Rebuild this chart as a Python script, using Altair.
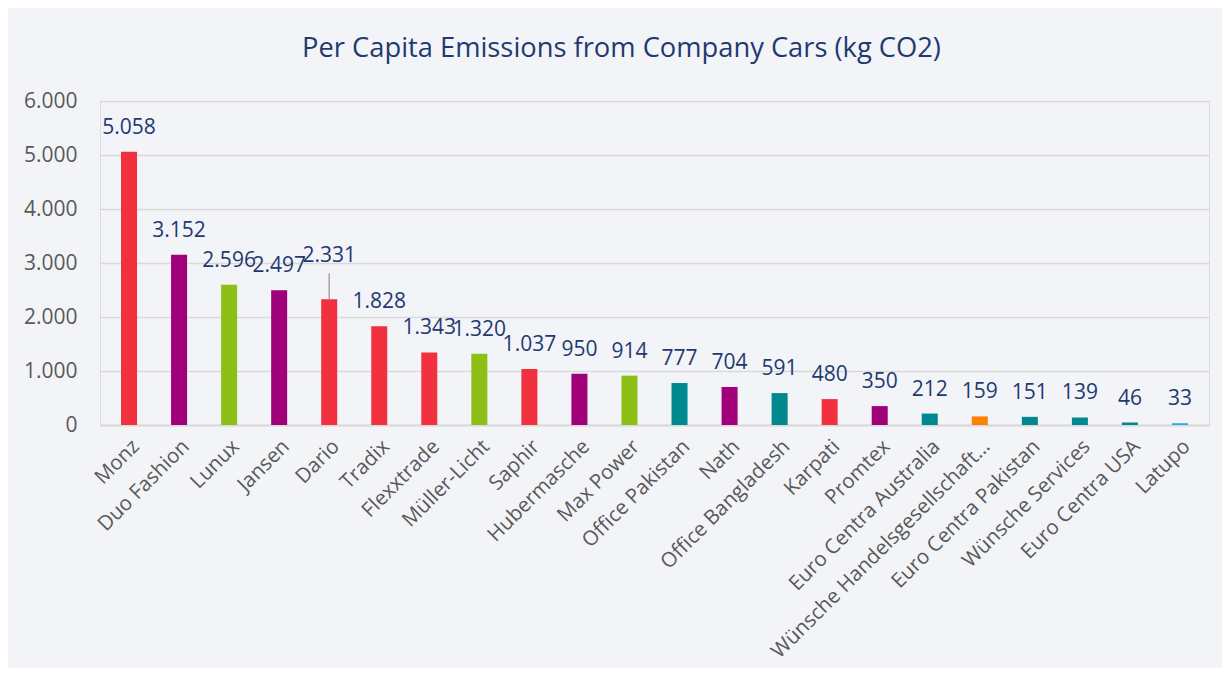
import altair as alt
import pandas as pd

companies = ["Monz", "Duo Fashion", "Lunux", "Jansen", "Dario", "Tradix", "Flexxtrade",
             "Müller-Licht", "Saphir", "Hubermasche", "Max Power", "Office Pakistan", "Nath",
             "Office Bangladesh", "Karpati", "Promtex", "Euro Centra Australia",
             "Wünsche Handelsgesellschaft…", "Euro Centra Pakistan", "Wünsche Services",
             "Euro Centra USA", "Latupo"]
emissions = [5058, 3152, 2596, 2497, 2331, 1828, 1343, 1320, 1037, 950, 914, 777, 704,
             591, 480, 350, 212, 159, 151, 139, 46, 33]
groups = ["A", "B", "C", "B", "A", "A", "A", "C", "A", "B", "C", "D", "B", "D", "A", "B",
          "D", "E", "D", "D", "D", "F"]
group_names = ["A", "B", "C", "D", "E", "F"]
group_colors = ["#F2313F", "#A0007A", "#8DC014", "#00888F", "#FF8000", "#25AEDB"]
y_ticks = [0, 1000, 2000, 3000, 4000, 5000, 6000]

df = pd.DataFrame({"company": companies, "value": emissions, "group": groups})

FONT = "Open Sans"
NAVY = "#1F3A70"
GRAY = "#595959"

x_enc = alt.X("company:N", sort=companies, title=None,
              scale=alt.Scale(paddingInner=0.68, paddingOuter=0.42),
              axis=alt.Axis(labelAngle=-45, labelFontSize=20.5, labelColor=GRAY, labelFont=FONT,
                            ticks=False, domain=True, domainColor="#D9D9D9", domainWidth=2,
                            labelLimit=400, labelPadding=11))
y_enc = alt.Y("value:Q", title=None,
              scale=alt.Scale(domain=[0, 6000], nice=False),
              axis=alt.Axis(values=y_ticks, format=",d", labelFontSize=21, labelColor=GRAY,
                            labelFont=FONT, ticks=False, domain=False, gridColor="#D9D9D9",
                            gridWidth=1.5, labelPadding=23))

base = alt.Chart(df)

bars = base.mark_bar().encode(
    x=x_enc, y=y_enc,
    color=alt.Color("group:N", scale=alt.Scale(domain=group_names, range=group_colors), legend=None),
)

labels = base.transform_filter(alt.datum.company != "Dario").mark_text(
    dy=-24, baseline="middle", fontSize=21, font=FONT, color=NAVY
).encode(x=alt.X("company:N", sort=companies), y="value:Q", text=alt.Text("value:Q", format=",d"))

dario_label = base.transform_filter(alt.datum.company == "Dario").mark_text(
    dy=-43, baseline="middle", fontSize=21, font=FONT, color=NAVY
).encode(x=alt.X("company:N", sort=companies), y="value:Q", text=alt.Text("value:Q", format=",d"))

leader = base.transform_filter(alt.datum.company == "Dario").transform_calculate(
    top="datum.value + 480"
).mark_rule(color="#A6A6A6", strokeWidth=1.5).encode(
    x=alt.X("company:N", sort=companies), y="value:Q", y2="top:Q")

chart = alt.layer(bars, leader, labels, dario_label).properties(
    width=1109, height=324,
    title=alt.TitleParams("Per Capita Emissions from Company Cars (kg CO2)", fontSize=27.3,
                          font=FONT, color=NAVY, fontWeight="normal", offset=28, anchor="middle",
                          dx=-33),
    autosize=alt.AutoSizeParams(type="none"),
    padding={"left": 92, "top": 93, "right": 13, "bottom": 243},
    background="#F3F4F8",
).configure_view(stroke=None).configure(
    locale=alt.Locale(number=alt.NumberLocale(decimal=",", thousands=".", grouping=[3],
                                              currency=["", " €"]))
)

chart.save("out.html", embed_options={"renderer": "svg", "actions": False})
